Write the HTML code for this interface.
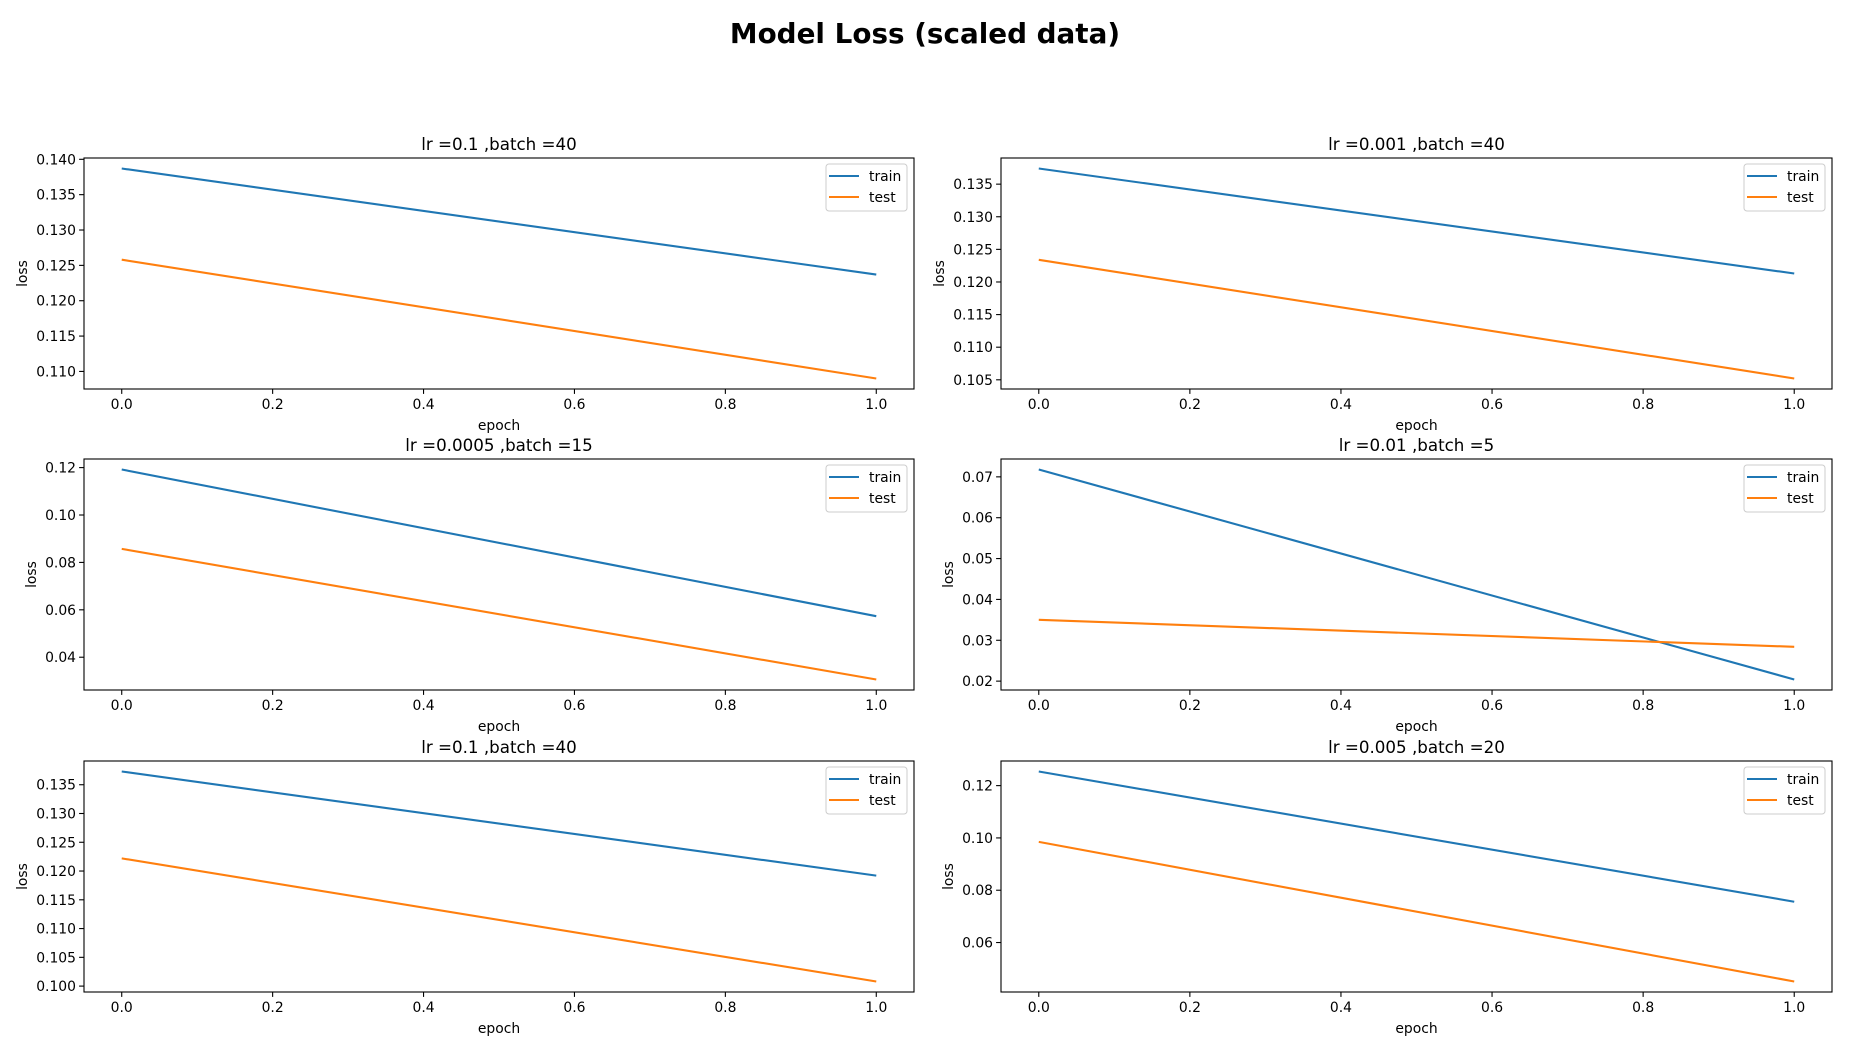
<!DOCTYPE html>
<html><head><meta charset="utf-8"><style>
html,body{margin:0;padding:0;background:#fff;}
svg{display:block;font-family:"DejaVu Sans","Liberation Sans",sans-serif;}
</style></head><body>
<svg id="fig" width="1850" height="1050" viewBox="0 0 1850 1050" xmlns="http://www.w3.org/2000/svg">
<rect width="1850" height="1050" fill="#fff"/>
<text x="925" y="43" text-anchor="middle" font-size="27.8" font-weight="bold">Model Loss (scaled data)</text>
</svg>
<script>
const titles = ["lr =0.1 ,batch =40","lr =0.001 ,batch =40","lr =0.0005 ,batch =15","lr =0.01 ,batch =5","lr =0.1 ,batch =40","lr =0.005 ,batch =20"];
const epochs = [0, 1];
const trainLoss = [[0.1387,0.1237],[0.1374,0.1213],[0.1192,0.0573],[0.0718,0.0204],[0.1373,0.1192],[0.1254,0.0756]];
const testLoss = [[0.1258,0.1090],[0.1234,0.1052],[0.0857,0.0306],[0.0350,0.0284],[0.1222,0.1008],[0.0985,0.0451]];
const yStep = [0.005,0.005,0.02,0.01,0.005,0.02];
const xTicks = [0,0.2,0.4,0.6,0.8,1.0];
const legendLabels = ["train","test"];

const svg = document.getElementById('fig');
const NS = 'http://www.w3.org/2000/svg';
function mk(tag, attrs, parent){const e=document.createElementNS(NS,tag);for(const k in attrs)e.setAttribute(k,attrs[k]);(parent||svg).appendChild(e);return e;}
const cols=[[84,914],[1001,1832]];
const rows=[[158,389],[459,690],[761,992]];
const C1='#1f77b4', C2='#ff7f0e';

for(let p=0;p<6;p++){
  const [L,R]=cols[p%2]; const [T,B]=rows[Math.floor(p/2)];
  const g=mk('g',{});
  
  
  const all=trainLoss[p].concat(testLoss[p]);
  const mn=Math.min(...all), mx=Math.max(...all), d=mx-mn;
  const y0=mn-0.05*d, y1=mx+0.05*d;
  const x0=-0.05, x1=1.05;
  const sx=v=>L+(v-x0)/(x1-x0)*(R-L);
  const sy=v=>B-(v-y0)/(y1-y0)*(B-T);
  // x ticks
  xTicks.forEach(v=>{
    const x=sx(v);
    mk('line',{x1:x,x2:x,y1:B,y2:B+4.9,stroke:'#000','stroke-width':1.1},g);
    const t=mk('text',{x:x,y:B+20,'text-anchor':'middle','font-size':13.9},g);
    t.textContent=v.toFixed(1);
    
    
  });
  // y ticks
  const st=yStep[p]; const dec=st<0.01?3:2;
  let maxW=0;
  for(let v=Math.ceil(y0/st-1e-9)*st; v<=y1+1e-12; v+=st){
    const y=sy(v);
    mk('line',{x1:L-4.9,x2:L,y1:y,y2:y,stroke:'#000','stroke-width':1.1},g);
    const t=mk('text',{x:L-8,y:y+5,'text-anchor':'end','font-size':13.9},g);
    t.textContent=v.toFixed(dec);
    
    
    maxW=Math.max(maxW,t.getComputedTextLength());
  }
  // lines
  [[trainLoss[p],C1,'train-line'],[testLoss[p],C2,'test-line']].forEach(([vals,c,n])=>{
    const pts=epochs.map((e,i)=>sx(e)+','+sy(vals[i])).join(' ');
    const pl=mk('polyline',{points:pts,fill:'none',stroke:c,'stroke-width':2.1},g);
    
    
  });
  // frame
  mk('rect',{x:L,y:T,width:R-L,height:B-T,fill:'none',stroke:'#000','stroke-width':1.1},g);
  // labels
  const xl=mk('text',{x:(L+R)/2,y:B+41,'text-anchor':'middle','font-size':13.9},g);
  xl.textContent='epoch';
  
  
  const yx=L-8-maxW-9;
  const yl=mk('text',{x:yx,y:(T+B)/2,'text-anchor':'middle','font-size':13.9,transform:'rotate(-90 '+yx+' '+(T+B)/2+')'},g);
  yl.textContent='loss';
  
  
  const tt=mk('text',{x:(L+R)/2,y:T-8,'text-anchor':'middle','font-size':16.7},g);
  tt.textContent=titles[p];
  
  
  // legend
  const lg=mk('g',{},g);
  
  
  mk('rect',{x:R-88,y:T+6,width:81,height:47,rx:3,fill:'#fff','fill-opacity':0.8,stroke:'#ccc','stroke-width':1},lg);
  legendLabels.forEach((lab,i)=>{
    const yy=T+18+i*21;
    mk('line',{x1:R-85,x2:R-55,y1:yy,y2:yy,stroke:i?C2:C1,'stroke-width':2.1},lg);
    const t=mk('text',{x:R-45,y:yy+5,'font-size':13.9},lg);
    t.textContent=lab;
    
    
  });
}
</script>
</body></html>
